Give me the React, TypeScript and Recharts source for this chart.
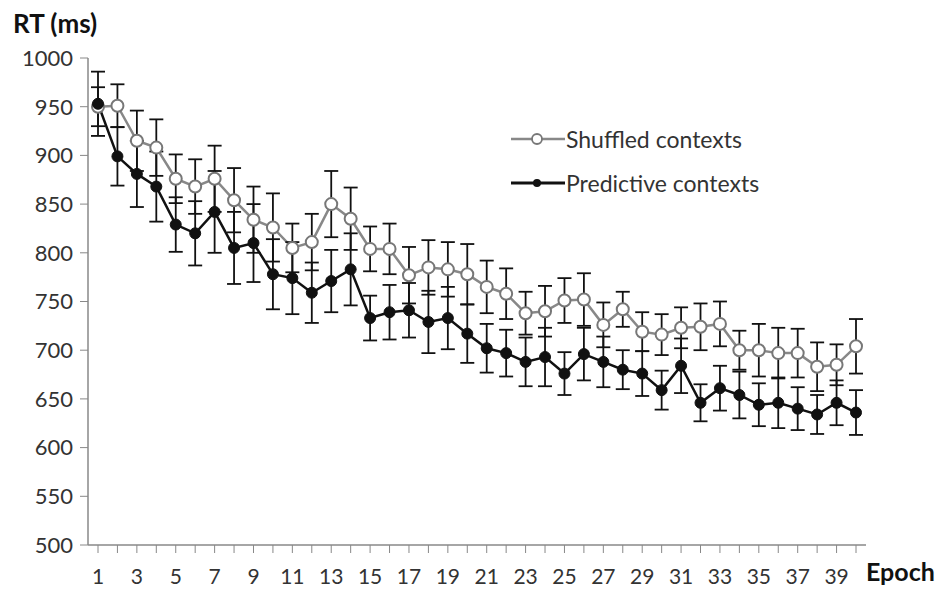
import React from "react";
import { LineChart, Line, XAxis, YAxis, ErrorBar } from "recharts";

const epochs = [
  1, 2, 3, 4, 5, 6, 7, 8, 9, 10, 11, 12, 13, 14, 15, 16, 17, 18, 19, 20,
  21, 22, 23, 24, 25, 26, 27, 28, 29, 30, 31, 32, 33, 34, 35, 36, 37, 38, 39, 40,
];

const shuffled = [
  950, 951, 915, 908, 876, 868, 876, 854, 834, 826, 805, 811, 850, 835, 804, 804, 777, 785, 783, 778,
  765, 758, 738, 740, 751, 752, 726, 742, 719, 716, 723, 724, 727, 700, 700, 697, 697, 683, 685, 704,
];
const shuffledErr = [
  20, 22, 31, 29, 25, 28, 34, 33, 34, 35, 25, 29, 34, 32, 23, 26, 29, 28, 28, 31,
  27, 26, 22, 26, 23, 27, 23, 18, 20, 21, 21, 24, 23, 20, 27, 26, 25, 25, 21, 28,
];

const predictive = [
  953, 899, 881, 868, 829, 820, 842, 805, 810, 778, 774, 759, 771, 783, 733, 739, 741, 729, 733, 717,
  702, 697, 688, 693, 676, 696, 688, 680, 676, 659, 684, 646, 661, 654, 644, 646, 640, 634, 646, 636,
];
const predictiveErr = [
  33, 30, 34, 36, 28, 33, 42, 37, 40, 36, 37, 31, 32, 37, 23, 28, 28, 32, 32, 30,
  25, 24, 25, 30, 22, 27, 26, 20, 23, 20, 28, 19, 23, 24, 22, 26, 22, 20, 23, 23,
];

const yTicks = [500, 550, 600, 650, 700, 750, 800, 850, 900, 950, 1000];

const data = epochs.map((e, i) => ({
  epoch: e,
  shuffled: shuffled[i],
  shuffledErr: shuffledErr[i],
  predictive: predictive[i],
  predictiveErr: predictiveErr[i],
}));

const FONT = "Lato, 'Open Sans', sans-serif";

function LegendBox() {
  const row = (label: string, filled: boolean) => (
    <div style={{ display: "flex", alignItems: "center", height: 44 }}>
      <svg width={54} height={14} style={{ marginRight: 1 }}>
        <line
          x1={0}
          y1={7}
          x2={54}
          y2={7}
          stroke={filled ? "#111" : "#888"}
          strokeWidth={filled ? 3 : 2.5}
        />
        {filled ? (
          <circle cx={26} cy={7} r={4} fill="#111" />
        ) : (
          <circle cx={26} cy={7} r={5} fill="#fff" stroke="#777" strokeWidth={1.8} />
        )}
      </svg>
      <span style={{ fontFamily: FONT, fontSize: 23, color: "#333" }}>{label}</span>
    </div>
  );
  return (
    <div style={{ position: "absolute", left: 511, top: 117 }}>
      {row("Shuffled contexts", false)}
      {row("Predictive contexts", true)}
    </div>
  );
}

export default function App() {
  return (
    <div style={{ position: "absolute", left: 0, top: 0, width: 941, height: 596, background: "#fff" }}>
      <LineChart
        width={941}
        height={596}
        data={data}
        margin={{ top: 58, right: 75, bottom: 11, left: 38 }}
      >
        <XAxis
          dataKey="epoch"
          interval={0}
          height={40}
          padding={{ left: 10, right: 10 }}
          tickSize={8}
          tickMargin={16}
          tickFormatter={(v) => (v % 2 === 1 ? String(v) : "")}
          axisLine={{ stroke: "#888", strokeWidth: 1.5 }}
          tickLine={{ stroke: "#888" }}
          tick={{ fill: "#333", fontSize: 21, fontFamily: FONT }}
        />
        <YAxis
          domain={[500, 1000]}
          ticks={yTicks}
          width={50}
          tickSize={8}
          tickMargin={7}
          axisLine={{ stroke: "#888", strokeWidth: 1.5 }}
          tickLine={{ stroke: "#888" }}
          tick={{ fill: "#333", fontSize: 22, fontFamily: FONT }}
        />
        <Line
          dataKey="shuffled"
          name="Shuffled contexts"
          stroke="#888"
          strokeWidth={2.5}
          isAnimationActive={false}
          dot={{ r: 6, fill: "#fff", stroke: "#777", strokeWidth: 2 }}
        >
          <ErrorBar dataKey="shuffledErr" width={7} stroke="#111" strokeWidth={1.8} direction="y" />
        </Line>
        <Line
          dataKey="predictive"
          name="Predictive contexts"
          stroke="#111"
          strokeWidth={2.5}
          isAnimationActive={false}
          dot={{ r: 5.5, fill: "#111", stroke: "#111", strokeWidth: 1 }}
        >
          <ErrorBar dataKey="predictiveErr" width={7} stroke="#111" strokeWidth={1.8} direction="y" />
        </Line>
      </LineChart>
      <LegendBox />
      <div
        style={{
          position: "absolute",
          left: 13,
          top: 10,
          fontFamily: FONT,
          fontWeight: 700,
          fontSize: 26,
          lineHeight: 1,
          color: "#111",
        }}
      >
        RT (ms)
      </div>
      <div
        style={{
          position: "absolute",
          left: 866,
          top: 559,
          fontFamily: FONT,
          fontWeight: 700,
          fontSize: 25,
          lineHeight: 1,
          color: "#111",
        }}
      >
        Epoch
      </div>
    </div>
  );
}
